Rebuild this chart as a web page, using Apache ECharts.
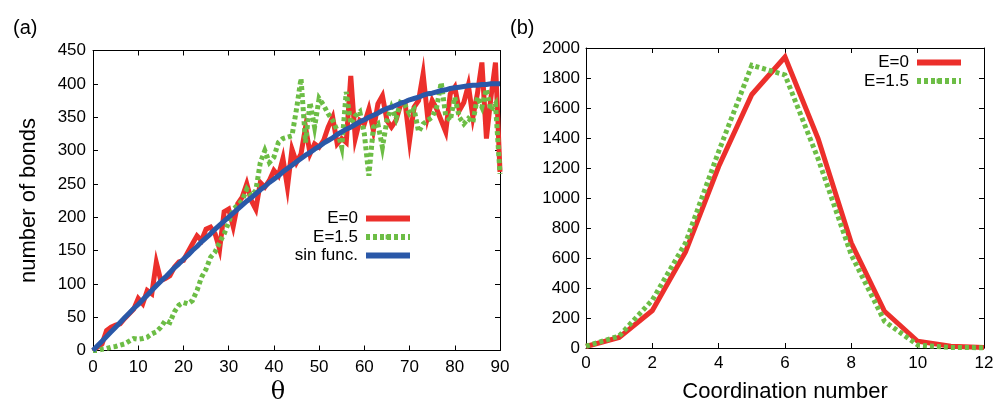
<!DOCTYPE html>
<html>
<head>
<meta charset="utf-8">
<script src="https://cdn.jsdelivr.net/npm/echarts@6/dist/echarts.min.js"></script>
<style>
  html, body { margin: 0; padding: 0; background: #fff; }
  #chart { width: 996px; height: 403px; }
</style>
</head>
<body>
<div id="chart"></div>
<script>
  // (a) bonds vs angle, one point per degree
  var theta = [];
  for (var i = 0; i <= 90; i++) theta.push(i);

  var bondsE0 = [0, 5, 10, 30, 35, 38, 40, 48, 55, 62,
    78, 70, 90, 85, 132, 105, 108, 112, 125, 133,
    135, 148, 160, 172, 165, 182, 185, 175, 152, 208,
    212, 186, 220, 230, 250, 225, 212, 252, 245, 255,
    270, 262, 288, 245, 302, 282, 295, 335, 295, 310,
    305, 315, 335, 350, 310, 318, 312, 412, 318, 345,
    340, 362, 330, 370, 382, 345, 335, 345, 368, 372,
    315, 365, 375, 415, 350, 375, 362, 345, 328, 385,
    395, 360, 372, 398, 350, 385, 432, 318, 380, 432, 268];

  var bondsE15 = [0, 0, 2, 3, 5, 6, 8, 10, 14, 18,
    17, 18, 20, 25, 28, 35, 45, 42, 58, 68,
    72, 70, 75, 90, 110, 122, 140, 148, 162, 175,
    192, 212, 218, 225, 242, 232, 240, 282, 300, 282,
    290, 312, 318, 320, 322, 362, 408, 312, 372, 335,
    378, 368, 355, 345, 330, 305, 388, 340, 352, 358,
    325, 262, 335, 340, 305, 345, 365, 348, 372, 368,
    355, 362, 328, 340, 345, 350, 365, 402, 352, 345,
    380, 350, 340, 348, 342, 380, 365, 392, 360, 370, 265];

  var bondsSin = [0, 7, 14, 21, 28, 35, 42, 49, 56, 63,
    69, 76, 83, 90, 97, 104, 110, 117, 124, 130,
    137, 143, 150, 156, 163, 169, 175, 182, 188, 194,
    200, 206, 212, 218, 224, 229, 235, 241, 246, 252,
    257, 262, 268, 273, 278, 283, 288, 293, 297, 302,
    306, 311, 315, 319, 324, 328, 332, 335, 339, 343,
    346, 350, 353, 356, 360, 363, 365, 368, 371, 373,
    376, 378, 380, 383, 385, 386, 388, 390, 391, 393,
    394, 395, 396, 397, 398, 398, 399, 399, 400, 400, 400];

  // (b) coordination number histogram
  var coordN = [0, 1, 2, 3, 4, 5, 6, 7, 8, 9, 10, 11, 12];
  var countE0 = [10, 70, 250, 640, 1210, 1690, 1940, 1395, 700, 245, 45, 12, 3];
  var countE15 = [12, 80, 320, 700, 1310, 1885, 1820, 1260, 620, 178, 20, 4, 2];

  var RED = '#ec2f2b';
  var GREEN = '#6cbd45';
  var BLUE = '#2a58a8';
  var FONT = 'Liberation Sans';
  var TICK_FS = 17;

  function pairs(xs, ys) {
    return xs.map(function (x, k) { return [x, ys[k]]; });
  }

  function plain(v) { return String(v); }

  function axisBase(extra) {
    var a = {
      type: 'value',
      axisLine: { show: true, onZero: false, lineStyle: { color: '#000', width: 1 } },
      axisTick: { show: true, inside: true, length: 5, lineStyle: { color: '#000' } },
      axisLabel: { color: '#000', fontFamily: FONT, fontSize: TICK_FS, formatter: plain },
      splitLine: { show: false }
    };
    for (var k in extra) a[k] = extra[k];
    return a;
  }

  function mirror(extra) {
    var a = axisBase(extra);
    a.axisLabel = { show: false };
    return a;
  }

  function legendBox(names, right, top) {
    return {
      data: names,
      orient: 'vertical', align: 'right',
      right: right, top: top,
      itemWidth: 44, itemHeight: 6, itemGap: 1.5,
      lineStyle: { width: 6 },
      textStyle: { fontFamily: FONT, fontSize: 17, color: '#000', lineHeight: 15, padding: [0, 3, 0, 0] }
    };
  }

  var chart = echarts.init(document.getElementById('chart'));
  chart.setOption({
    animation: false,
    backgroundColor: '#fff',
    textStyle: { fontFamily: FONT },
    title: [
      { text: '(a)', left: 8, top: 13, textStyle: { fontFamily: FONT, fontSize: 20, fontWeight: 'normal', color: '#000' } },
      { text: '(b)', left: 505, top: 13, textStyle: { fontFamily: FONT, fontSize: 20, fontWeight: 'normal', color: '#000' } }
    ],
    grid: [
      { left: 93, top: 50.5, width: 407, height: 300, outerBoundsMode: 'none', containLabel: false },
      { left: 586, top: 48, width: 398, height: 300, outerBoundsMode: 'none', containLabel: false }
    ],
    xAxis: [
      axisBase({ gridIndex: 0, min: 0, max: 90, interval: 10, position: 'bottom',
        axisLabel: { color: '#000', fontFamily: FONT, fontSize: TICK_FS, margin: 8, formatter: plain },
        name: 'θ', nameLocation: 'middle', nameGap: 30.5,
        nameTextStyle: { fontFamily: 'DejaVu Serif', fontSize: 24, color: '#000', padding: [0, 37, 0, 0] } }),
      mirror({ gridIndex: 0, min: 0, max: 90, interval: 10, position: 'top' }),
      axisBase({ gridIndex: 1, min: 0, max: 12, interval: 2, position: 'bottom',
        axisLabel: { color: '#000', fontFamily: FONT, fontSize: TICK_FS, margin: 7, formatter: plain },
        name: 'Coordination number', nameLocation: 'middle', nameGap: 33,
        nameTextStyle: { fontFamily: FONT, fontSize: 22, color: '#000' } }),
      mirror({ gridIndex: 1, min: 0, max: 12, interval: 2, position: 'top' })
    ],
    yAxis: [
      axisBase({ gridIndex: 0, min: 0, max: 450, interval: 50, position: 'left',
        axisLabel: { color: '#000', fontFamily: FONT, fontSize: TICK_FS, margin: 7, formatter: plain },
        name: 'number of bonds', nameLocation: 'middle', nameGap: 53,
        nameTextStyle: { fontFamily: FONT, fontSize: 22, color: '#000' } }),
      mirror({ gridIndex: 0, min: 0, max: 450, interval: 50, position: 'right' }),
      axisBase({ gridIndex: 1, min: 0, max: 2000, interval: 200, position: 'left',
        axisLabel: { color: '#000', fontFamily: FONT, fontSize: TICK_FS, margin: 6, formatter: plain } }),
      mirror({ gridIndex: 1, min: 0, max: 2000, interval: 200, position: 'right' })
    ],
    legend: [
      legendBox(['E=0', 'E=1.5', 'sin func.'], 578, 205),
      legendBox(['E=0', 'E=1.5'], 27, 49)
    ],
    series: [
      {
        name: 'E=0', type: 'line', xAxisIndex: 0, yAxisIndex: 0,
        data: pairs(theta, bondsE0), symbol: 'rect', symbolSize: 3, showSymbol: false, clip: false,
        lineStyle: { color: RED, width: 5, join: 'miter', miterLimit: 8 },
        itemStyle: { color: RED }
      },
      {
        name: 'E=1.5', type: 'line', xAxisIndex: 0, yAxisIndex: 0,
        data: pairs(theta, bondsE15), symbol: 'rect', symbolSize: 3, showSymbol: false, clip: false,
        lineStyle: { color: GREEN, width: 5, type: [4, 3], cap: 'butt', join: 'miter', miterLimit: 8 },
        itemStyle: { color: GREEN }
      },
      {
        name: 'sin func.', type: 'line', xAxisIndex: 0, yAxisIndex: 0,
        data: pairs(theta, bondsSin), symbol: 'rect', symbolSize: 3, showSymbol: false, clip: false,
        lineStyle: { color: BLUE, width: 5 },
        itemStyle: { color: BLUE }
      },
      {
        name: 'E=0', type: 'line', xAxisIndex: 2, yAxisIndex: 2,
        data: pairs(coordN, countE0), symbol: 'rect', symbolSize: 3, showSymbol: false, clip: false,
        lineStyle: { color: RED, width: 5, join: 'miter' },
        itemStyle: { color: RED }
      },
      {
        name: 'E=1.5', type: 'line', xAxisIndex: 2, yAxisIndex: 2,
        data: pairs(coordN, countE15), symbol: 'rect', symbolSize: 3, showSymbol: false, clip: false,
        lineStyle: { color: GREEN, width: 5, type: [4, 3], cap: 'butt', join: 'miter' },
        itemStyle: { color: GREEN }
      }
    ]
  });
</script>
</body>
</html>
